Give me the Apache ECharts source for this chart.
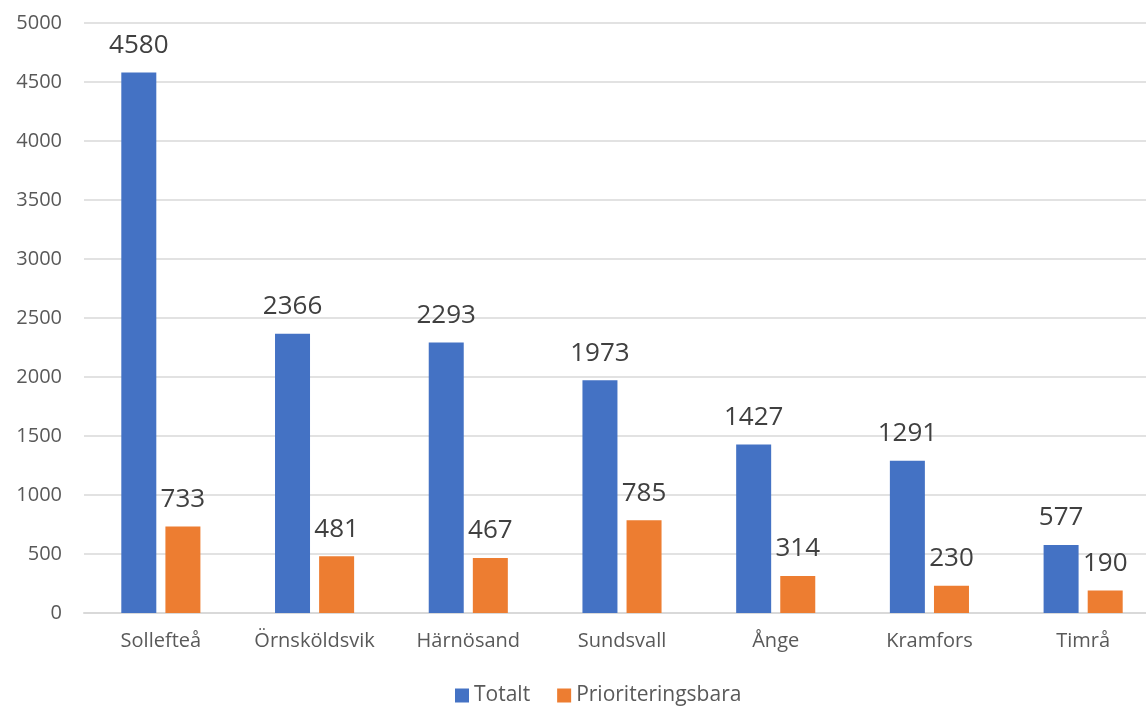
<!DOCTYPE html>
<html>
<head>
<meta charset="utf-8">
<script src="https://cdn.jsdelivr.net/npm/echarts@6/dist/echarts.min.js"></script>
<style>
  html, body { margin: 0; padding: 0; background: #fff; overflow: hidden; }
  /* the plot runs a little past the right edge of the picture */
  #chart { width: 1160px; height: 708px; }
</style>
</head>
<body>
<div id="chart"></div>
<script>
// categories and values
var kommuner = ["Sollefteå", "Örnsköldsvik", "Härnösand", "Sundsvall", "Ånge", "Kramfors", "Timrå"];
var totalt = [4580, 2366, 2293, 1973, 1427, 1291, 577];
var prioriteringsbara = [733, 481, 467, 785, 314, 230, 190];
var seriesNames = ["Totalt", "Prioriteringsbara"];

var fontFam = "'Open Sans', 'Noto Sans', sans-serif";
var chart = echarts.init(document.getElementById("chart"));

var labelStyle = {
  show: true,
  position: "top",
  distance: 14,
  color: "#404040",
  fontSize: 26,
  fontFamily: fontFam,
};

chart.setOption({
  animation: false,
  color: ["#4472C4", "#ED7D31"],
  grid: {
    left: 84,
    right: 0,
    top: 23,
    bottom: 95,
  },
  legend: {
    top: 680,
    left: 450,
    itemWidth: 14,
    itemHeight: 14,
    itemGap: 27,
    icon: "rect",
    textStyle: {
      color: "#595959",
      fontSize: 21,
      fontFamily: fontFam,
    },
    data: seriesNames,
  },
  xAxis: {
    type: "category",
    data: kommuner,
    axisTick: { show: false },
    axisLine: { lineStyle: { color: "#d9d9d9", width: 2 } },
    axisLabel: {
      interval: 0,
      color: "#595959",
      fontSize: 20,
      fontFamily: fontFam,
      margin: 18,
    },
  },
  yAxis: {
    type: "value",
    min: 0,
    max: 5000,
    interval: 500,
    axisLine: { show: false },
    axisTick: { show: false },
    axisLabel: {
      color: "#595959",
      fontSize: 20,
      fontFamily: fontFam,
      margin: 22,
      formatter: function (v) { return String(v); },
    },
    splitLine: { lineStyle: { color: "#d9d9d9", width: 1.5 } },
  },
  series: [
    {
      name: seriesNames[0],
      type: "bar",
      data: totalt,
      barWidth: 35,
      barGap: "26%",
      label: labelStyle,
    },
    {
      name: seriesNames[1],
      type: "bar",
      data: prioriteringsbara,
      barWidth: 35,
      label: labelStyle,
    },
  ],
});
</script>
</body>
</html>
